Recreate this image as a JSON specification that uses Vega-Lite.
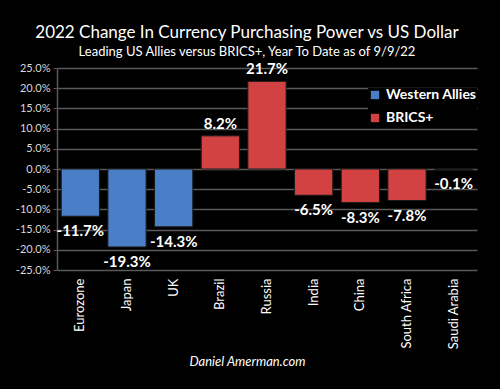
{
  "$schema": "https://vega.github.io/schema/vega-lite/v6.json",
  "autosize": "none",
  "width": 420,
  "height": 202,
  "padding": {"left": 57, "top": 68, "right": 23, "bottom": 119},
  "background": "#000000",
  "config": {
    "view": {"stroke": null},
    "font": "Lato",
    "locale": {
      "number": {"decimal": ".", "thousands": ",", "grouping": [3], "currency": ["$", ""], "minus": "-"}
    }
  },
  "title": {
    "text": "2022 Change In Currency Purchasing Power vs US Dollar",
    "subtitle": "Leading US Allies versus BRICS+, Year To Date as of 9/9/22",
    "anchor": "middle",
    "dx": -20,
    "offset": 2,
    "font": "Lato",
    "fontSize": 17,
    "fontWeight": "normal",
    "color": "#ffffff",
    "subtitleFont": "Lato",
    "subtitleFontSize": 13,
    "subtitleColor": "#ffffff",
    "subtitlePadding": 4
  },
  "data": {
    "values": [
      {"country": "Eurozone", "group": "Western Allies", "change": -0.117},
      {"country": "Japan", "group": "Western Allies", "change": -0.193},
      {"country": "UK", "group": "Western Allies", "change": -0.143},
      {"country": "Brazil", "group": "BRICS+", "change": 0.082},
      {"country": "Russia", "group": "BRICS+", "change": 0.217},
      {"country": "India", "group": "BRICS+", "change": -0.065},
      {"country": "China", "group": "BRICS+", "change": -0.083},
      {"country": "South Africa", "group": "BRICS+", "change": -0.078},
      {"country": "Saudi Arabia", "group": "BRICS+", "change": -0.001}
    ]
  },
  "encoding": {
    "x": {
      "field": "country",
      "type": "nominal",
      "sort": null,
      "scale": {"paddingInner": 0.18, "paddingOuter": 0.09},
      "axis": {
        "title": "Daniel Amerman.com",
        "titleFont": "Lato",
        "titleFontStyle": "italic",
        "titleFontWeight": "normal",
        "titleFontSize": 13,
        "titleColor": "#ffffff",
        "titleX": 190,
        "titleY": 91,
        "titleBaseline": "middle",
        "titleAnchor": "middle",
        "labelAngle": -90,
        "labelAlign": "right",
        "labelBaseline": "middle",
        "labelFontSize": 13,
        "labelColor": "#ffffff",
        "labelPadding": 8,
        "ticks": false,
        "domain": false
      }
    },
    "y": {
      "field": "change",
      "type": "quantitative",
      "scale": {"domain": [-0.25, 0.25], "nice": false},
      "axis": {
        "title": null,
        "format": ".1%",
        "values": [-0.25, -0.2, -0.15, -0.1, -0.05, 0, 0.05, 0.1, 0.15, 0.2, 0.25],
        "labelFontSize": 11,
        "labelColor": "#d9d9d9",
        "labelPadding": 3,
        "tickColor": "#595959",
        "tickSize": 4,
        "domainColor": "#595959",
        "domainWidth": 1.5,
        "gridColor": "#595959",
        "gridWidth": 1.5
      }
    }
  },
  "layer": [
    {
      "mark": {"type": "bar", "stroke": "#1a1a1a", "strokeWidth": 1},
      "encoding": {
        "color": {
          "field": "group",
          "type": "nominal",
          "scale": {"domain": ["Western Allies", "BRICS+"], "range": ["#4a7ec6", "#d24242"]},
          "legend": {
            "title": null,
            "orient": "none",
            "legendX": 311,
            "legendY": 20,
            "symbolType": "square",
            "symbolSize": 70,
            "symbolStrokeWidth": 0,
            "labelFont": "Lato",
            "labelFontWeight": "bold",
            "labelFontSize": 14,
            "labelColor": "#ffffff",
            "rowPadding": 9,
            "labelOffset": 4,
            "fillColor": "#000000"
          }
        }
      }
    },
    {
      "transform": [{"filter": "datum.change >= 0"}],
      "mark": {"type": "text", "baseline": "bottom", "dy": -4, "color": "#ffffff", "fontWeight": "bold", "fontSize": 15, "font": "Lato"},
      "encoding": {"text": {"field": "change", "type": "quantitative", "format": ".1%"}}
    },
    {
      "transform": [{"filter": "datum.change < 0"}],
      "mark": {"type": "text", "baseline": "top", "dy": 8, "color": "#ffffff", "fontWeight": "bold", "fontSize": 15, "font": "Lato"},
      "encoding": {"text": {"field": "change", "type": "quantitative", "format": ".1%"}}
    }
  ]
}
